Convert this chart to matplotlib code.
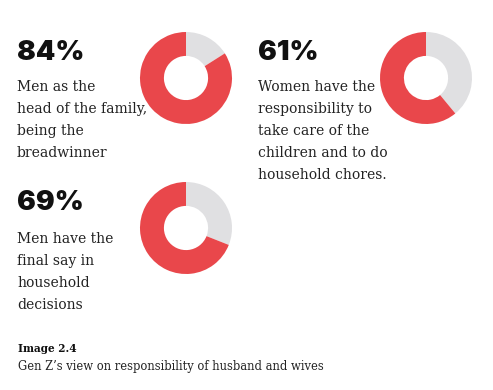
import matplotlib.pyplot as plt

pcts = [84, 61, 69]
labels = ["84%", "61%", "69%"]
descs = [
    "Men as the\nhead of the family,\nbeing the\nbreadwinner",
    "Women have the\nresponsibility to\ntake care of the\nchildren and to do\nhousehold chores.",
    "Men have the\nfinal say in\nhousehold\ndecisions",
]
caption_title = "Image 2.4"
caption_text = "Gen Z\u2019s view on responsibility of husband and wives"

W, H = 493, 390
fig = plt.figure(figsize=(W / 100, H / 100), dpi=100)
fig.patch.set_facecolor("white")

red = "#E9474B"
grey = "#E0E0E2"

# block layout in pixels: (text x, pct top y, desc top y, donut center x, donut center y)
blocks = [(17, 40, 80, 186, 78), (258, 40, 80, 426, 78), (17, 190, 232, 186, 228)]
r = 46

for (tx, py, dy, cx, cy), p, lab, d in zip(blocks, pcts, labels, descs):
    fig.text(tx / W, 1 - py / H, lab, fontsize=20, fontweight="black",
             family="Inter", va="top", ha="left", color="#111111")
    fig.text(tx / W, 1 - dy / H, d, fontsize=10, family="DejaVu Serif",
             va="top", ha="left", color="#222222", linespacing=1.72)
    ax = fig.add_axes([(cx - r) / W, 1 - (cy + r) / H, 2 * r / W, 2 * r / H])
    ax.pie([100 - p, p], colors=[grey, red], startangle=90, counterclock=False,
           wedgeprops=dict(width=0.52, edgecolor="none"))
    ax.set_xlim(-1, 1)
    ax.set_ylim(-1, 1)
    ax.set_aspect("equal")
    ax.axis("off")

fig.text(18 / W, 1 - 343 / H, caption_title, fontsize=7.6, fontweight="bold",
         family="DejaVu Serif", va="top", ha="left", color="#111111")
fig.text(18 / W, 1 - 360 / H, caption_text, fontsize=8.3,
         family="DejaVu Serif", va="top", ha="left", color="#222222")

fig.savefig("out.png", dpi=100, facecolor="white")
